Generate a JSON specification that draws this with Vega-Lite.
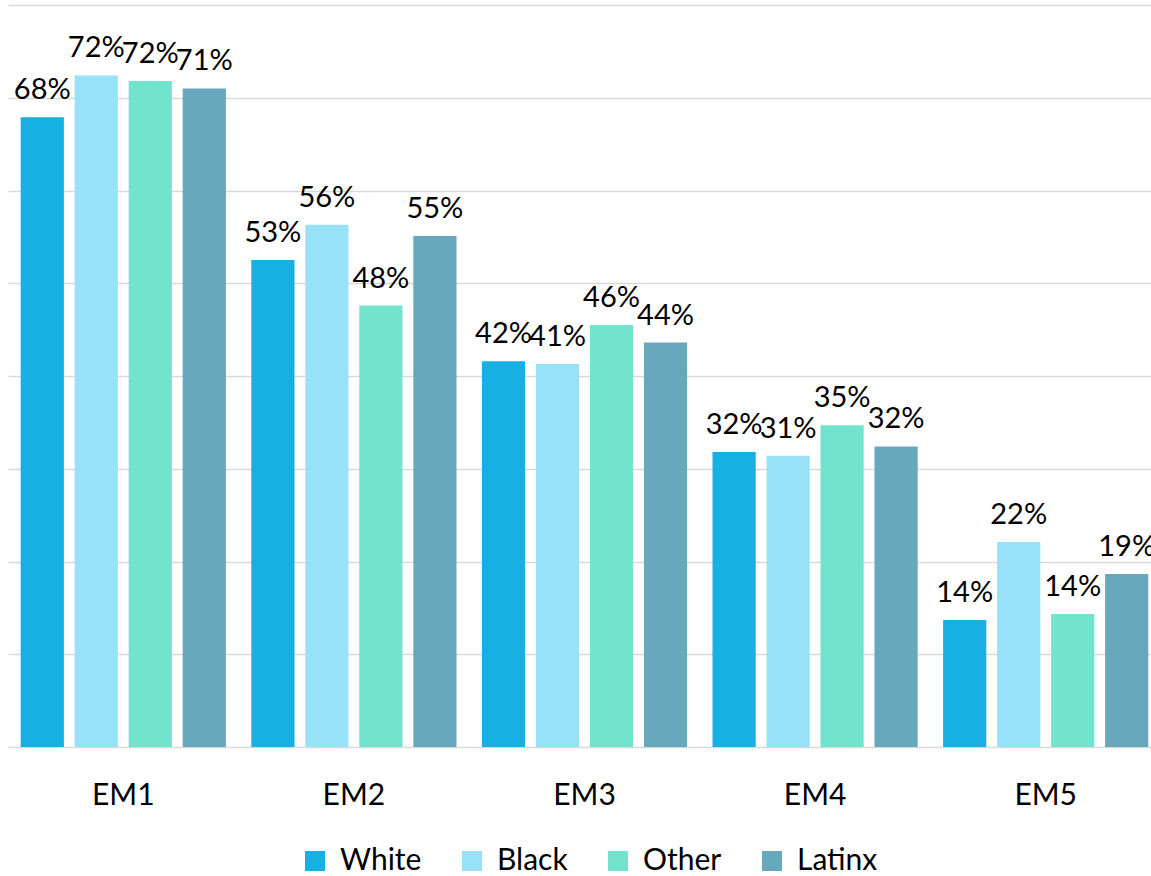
{
  "$schema": "https://vega.github.io/schema/vega-lite/v6.json",
  "autosize": "none",
  "width": 1153,
  "height": 742,
  "padding": {"left": 8, "top": 5, "right": 0, "bottom": 129},
  "background": "white",
  "config": {
    "font": "Lato",
    "view": {"stroke": null}
  },
  "data": {
    "values": [
      {"measure": "EM1", "group": "White", "value": 0.679},
      {"measure": "EM1", "group": "Black", "value": 0.724},
      {"measure": "EM1", "group": "Other", "value": 0.718},
      {"measure": "EM1", "group": "Latinx", "value": 0.710},
      {"measure": "EM2", "group": "White", "value": 0.525},
      {"measure": "EM2", "group": "Black", "value": 0.563},
      {"measure": "EM2", "group": "Other", "value": 0.476},
      {"measure": "EM2", "group": "Latinx", "value": 0.551},
      {"measure": "EM3", "group": "White", "value": 0.416},
      {"measure": "EM3", "group": "Black", "value": 0.413},
      {"measure": "EM3", "group": "Other", "value": 0.455},
      {"measure": "EM3", "group": "Latinx", "value": 0.436},
      {"measure": "EM4", "group": "White", "value": 0.318},
      {"measure": "EM4", "group": "Black", "value": 0.314},
      {"measure": "EM4", "group": "Other", "value": 0.347},
      {"measure": "EM4", "group": "Latinx", "value": 0.324},
      {"measure": "EM5", "group": "White", "value": 0.137},
      {"measure": "EM5", "group": "Black", "value": 0.221},
      {"measure": "EM5", "group": "Other", "value": 0.1435},
      {"measure": "EM5", "group": "Latinx", "value": 0.1866}
    ]
  },
  "encoding": {
    "x": {
      "field": "measure",
      "type": "nominal",
      "scale": {"paddingInner": 0, "paddingOuter": 0},
      "axis": {
        "title": null,
        "labelAngle": 0,
        "domain": false,
        "ticks": false,
        "tickSize": 0,
        "labelPadding": 57,
        "labelBaseline": "alphabetic",
        "labelFont": "Lato",
        "labelFontSize": 30,
        "labelColor": "#000000"
      }
    },
    "xOffset": {
      "field": "group",
      "type": "nominal",
      "sort": ["White", "Black", "Other", "Latinx"],
      "scale": {"paddingInner": 0.2, "paddingOuter": 0.235}
    },
    "y": {
      "field": "value",
      "type": "quantitative",
      "scale": {"domain": [0, 0.8], "nice": false},
      "axis": {
        "title": null,
        "labels": false,
        "ticks": false,
        "domain": false,
        "grid": true,
        "gridColor": "#d9d9d9",
        "gridWidth": 1.5,
        "values": [0, 0.1, 0.2, 0.3, 0.4, 0.5, 0.6, 0.7, 0.8]
      }
    }
  },
  "layer": [
    {
      "mark": {"type": "bar"},
      "encoding": {
        "color": {
          "field": "group",
          "type": "nominal",
          "scale": {
            "domain": ["White", "Black", "Other", "Latinx"],
            "range": ["#18AFE3", "#98E2F9", "#72E4CE", "#67A8BC"]
          },
          "legend": {
            "title": null,
            "orient": "none",
            "direction": "horizontal",
            "legendX": 292,
            "legendY": 841,
            "symbolType": "square",
            "symbolSize": 400,
            "symbolStrokeWidth": 0,
            "labelFont": "Lato",
            "labelFontSize": 30,
            "labelColor": "#000000",
            "labelOffset": 10,
            "columnPadding": 35,
            "labelLimit": 300
          }
        }
      }
    },
    {
      "mark": {"type": "text", "baseline": "alphabetic", "dy": -18, "font": "Lato", "fontSize": 29, "color": "#000000"},
      "encoding": {
        "text": {"field": "value", "type": "quantitative", "format": ".0%"}
      }
    }
  ]
}
